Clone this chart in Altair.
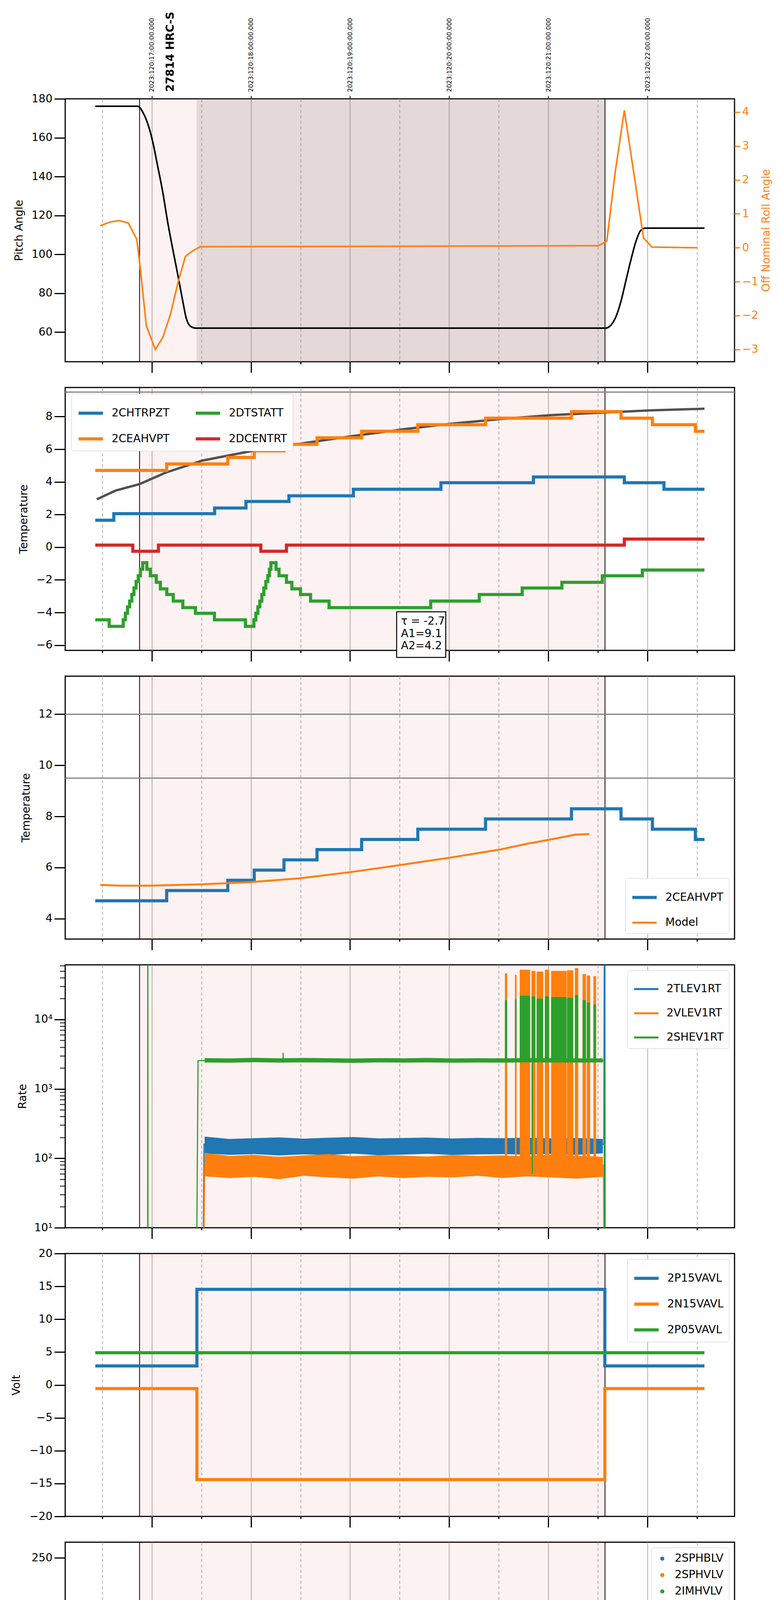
import json

import altair as alt
import pandas as pd

BLUE, ORANGE, GREEN, RED = "#1f77b4", "#ff7f0e", "#2ca02c", "#d62728"
FONT = "DejaVu Sans"
W, H = 1714, 673

# ---- time axis (local clock "HH:MM", minutes may carry decimals) ----
X_RANGE = ["12:07.6", "18:52.7"]
X_TICKS = ["12:30", "13:00", "13:30", "14:00", "14:30", "15:00", "15:30",
           "16:00", "16:30", "17:00", "17:30", "18:00", "18:30"]
X_TITLE = "2023-04-30 (120)"
UTC_TICKS = ["13:00", "14:00", "15:00", "16:00", "17:00", "18:00"]
UTC_LABELS = ["2023:120:17:00:00.000", "2023:120:18:00:00.000",
              "2023:120:19:00:00.000", "2023:120:20:00:00.000",
              "2023:120:21:00:00.000", "2023:120:22:00:00.000"]
OBSID = "27814 HRC-S"
OBSID_T = "13:11.4"
OBS_SPAN = ["12:52.6", "17:34.3"]
SLEW_DONE = "13:27.1"

# ---- panel 1: pitch / roll ----
PITCH_TICKS = [60, 80, 100, 120, 140, 160, 180]
PITCH_DOMAIN = [44.8, 180]
PITCH_T = ["12:25.8", "12:51.5", "12:54.5", "12:58.2", "13:00.6", "13:03.6", "13:06.7",
           "13:09.7", "13:12.7", "13:15.8", "13:18.8", "13:20.9", "13:23.3", "13:26.4",
           "17:34.8", "17:37.9", "17:40.9", "17:43.9", "17:46.9", "17:49.9", "17:53.0",
           "17:56.0", "17:59.0", "18:34.5"]
PITCH_V = [176.2, 176.2, 173.2, 165.5, 157.8, 145.2, 131.7, 116.2, 102.7, 89.2, 75.7,
           67.0, 63.1, 62.1, 62.1, 63.6, 67.9, 75.7, 86.3, 96.9, 106.6, 112.4, 113.5, 113.5]
ROLL_TICKS = [-3, -2, -1, 0, 1, 2, 3, 4]
ROLL_DOMAIN = [-3.36, 4.39]
ROLL_T = ["12:28.8", "12:34.9", "12:40.3", "12:45.8", "12:50.9", "12:53.0", "12:56.7",
          "13:02.1", "13:06.7", "13:11.2", "13:15.8", "13:20.3", "13:24.2", "13:29.4",
          "15:00.3", "17:30.3", "17:35.4", "17:40.3", "17:46.0", "17:51.5", "17:57.6",
          "18:02.7", "18:30.0"]
ROLL_V = [0.65, 0.76, 0.80, 0.73, 0.25, -0.59, -2.3, -3.0, -2.64, -1.98, -1.04, -0.26,
          -0.11, 0.03, 0.04, 0.06, 0.19, 2.17, 4.05, 2.28, 0.29, 0.02, 0.0]

# ---- panel 2: temperatures ----
TEMP_TICKS = [-6, -4, -2, 0, 2, 4, 6, 8]
TEMP_DOMAIN = [-6.32, 9.78]
TEMP_LIMITS = [9.5]
FIT_T = ["12:26.7", "12:37.9", "12:52.7", "13:08.2", "13:30.3", "14:00.0", "14:30.0",
         "15:00.3", "15:30.6", "16:00.9", "16:31.2", "17:01.5", "17:34.5", "18:02.1", "18:34.5"]
FIT_V = [2.93, 3.46, 3.87, 4.56, 5.30, 5.88, 6.34, 6.79, 7.2, 7.56, 7.85, 8.09, 8.25, 8.38, 8.48]
CHTRPZT_T = ["12:25.8", "12:37.0", "13:38.0", "13:57.0", "14:23.0", "15:02.0", "15:55.0",
             "16:51.0", "17:46.0", "18:10.0", "18:34.5"]
CHTRPZT_V = [1.65, 2.05, 2.4, 2.8, 3.15, 3.55, 3.95, 4.3, 3.95, 3.55, 3.55]
CEAHVPT_T = ["12:25.8", "13:09.0", "13:46.0", "14:02.0", "14:20.0", "14:40.0", "15:07.0",
             "15:41.0", "16:22.0", "17:14.0", "17:44.0", "18:03.0", "18:29.0", "18:34.5"]
CEAHVPT_V = [4.7, 5.1, 5.5, 5.9, 6.3, 6.7, 7.1, 7.5, 7.9, 8.3, 7.9, 7.5, 7.1, 7.1]
DCENTRT_T = ["12:25.8", "12:48.5", "13:04.0", "14:06.0", "14:21.5", "17:46.0", "18:34.5"]
DCENTRT_V = [0.13, -0.25, 0.13, -0.25, 0.13, 0.5, 0.5]
DTSTATT_T = ["12:25.8", "12:34.2", "12:42.7", "12:44.0", "12:45.3", "12:46.6", "12:47.9",
             "12:49.2", "12:50.5", "12:51.8", "12:53.1", "12:54.5", "12:57.0", "12:59.1",
             "13:02.7", "13:05.2", "13:09.1", "13:13.0", "13:18.8", "13:26.4", "13:37.9",
             "13:56.7", "14:01.8", "14:03.0", "14:04.2", "14:05.4", "14:06.6", "14:07.8",
             "14:09.0", "14:10.2", "14:11.2", "14:12.1", "14:15.2", "14:17.0", "14:21.5",
             "14:24.8", "14:30.0", "14:36.1", "14:47.3", "15:48.8", "16:18.2", "16:44.2",
             "17:08.2", "17:32.7", "17:56.9", "18:34.5"]
DTSTATT_V = [-4.45, -4.85, -4.45, -4.05, -3.65, -3.3, -2.9, -2.5, -2.1, -1.75, -1.35, -0.95,
             -1.35, -1.75, -2.15, -2.55, -2.9, -3.3, -3.7, -4.05, -4.45, -4.85, -4.45, -4.05,
             -3.65, -3.3, -2.9, -2.5, -2.1, -1.75, -1.35, -0.95, -1.35, -1.75, -2.15, -2.55,
             -2.9, -3.3, -3.7, -3.3, -2.9, -2.5, -2.15, -1.75, -1.4, -1.4]
NOTE_BOX_T = ["15:28.2", "15:57.9"]
NOTE_BOX_V = [-3.96, -6.75]
NOTE_LINES = ["τ = -2.7", "A1=9.1", "A2=4.2"]
NOTE_T = "15:30.8"
NOTE_V = [-4.54, -5.32, -6.06]

# ---- panel 3: model comparison ----
CEA_TICKS = [4, 6, 8, 10, 12]
CEA_DOMAIN = [3.2, 13.49]
CEA_LIMITS = [12, 9.5]
MODEL_T = ["12:28.8", "12:40.9", "12:59.1", "13:29.4", "13:59.7", "14:30.0", "15:00.3",
           "15:30.6", "16:00.9", "16:31.2", "16:46.3", "17:01.5", "17:16.6", "17:24.8"]
MODEL_V = [5.32, 5.29, 5.29, 5.34, 5.43, 5.58, 5.82, 6.10, 6.39, 6.71, 6.92, 7.10, 7.29, 7.31]

# ---- panel 4: rates ----
RATE_DOMAIN = [10, 61200]
RATE_TICKS = [10, 100, 1000, 10000]
RATE_TICK_LABELS = ["10¹", "10²", "10³", "10⁴"]
RATE_MINOR = [20, 30, 40, 50, 60, 70, 80, 90, 200, 300, 400, 500, 600, 700, 800, 900,
              2000, 3000, 4000, 5000, 6000, 7000, 8000, 9000, 20000, 30000, 40000, 50000, 60000]
BAND_T = ["13:32", "13:47", "14:02", "14:17", "14:32", "14:47", "15:02", "15:17", "15:32",
          "15:47", "16:02", "16:17", "16:32", "16:47", "17:02", "17:17", "17:33"]
TLEV_LO = [118, 112, 115, 110, 114, 112, 117, 111, 113, 116, 112, 114, 115, 113, 116, 112, 118]
TLEV_HI = [205, 190, 195, 200, 192, 198, 203, 194, 196, 199, 193, 197, 195, 198, 194, 196, 190]
VLEV_LO = [55, 52, 54, 50, 56, 53, 51, 55, 52, 54, 53, 56, 52, 55, 53, 51, 54]
VLEV_HI = [120, 108, 112, 105, 110, 115, 107, 111, 109, 106, 112, 108, 110, 107, 113, 109, 105]
SHEV_LO = [2400, 2380, 2420, 2390, 2410, 2400, 2370, 2410, 2395, 2405, 2385, 2400, 2390,
           2410, 2400, 2395, 2410]
SHEV_HI = [2780, 2750, 2800, 2760, 2790, 2770, 2740, 2780, 2760, 2790, 2750, 2770, 2760,
           2780, 2770, 2760, 2750]
TLEV_T = ["13:31.0", "13:31.6", "17:33.6", "17:34.0", "17:34.4"]
TLEV_V = [1, 160, 160, 1e6, 1]
VLEV_T = ["13:31.2", "13:32.0", "17:33.4", "17:33.8"]
VLEV_V = [1, 80, 80, 1]
SHEV_T = ["12:57.5", "12:57.6", "12:57.7", "13:27.0", "13:28.0", "14:19.4", "14:19.5",
          "14:19.6", "16:50.2", "16:50.3", "16:50.4", "17:33.8", "17:34.0"]
SHEV_V = [1, 1e6, 1, 1, 2550, 2550, 3300, 2550, 2550, 60, 2550, 2550, 1]
SPIKE_START = ["16:33.7", "16:39.8", "16:42.7", "16:49.8", "16:52.9", "16:57.9", "17:01.7",
               "17:11.3", "17:16.1", "17:20.7", "17:23.3", "17:27.3"]
SPIKE_END = ["16:35.1", "16:40.8", "16:49.0", "16:52.2", "16:56.9", "17:00.5", "17:11.1",
             "17:15.1", "17:18.1", "17:22.8", "17:25.3", "17:28.9"]
VLEV_SPIKE_HI = [46000, 44000, 52000, 50000, 49000, 52000, 50000, 51000, 55000, 45000,
                 43000, 42000]
SHEV_SPIKE_HI = [19000, 19500, 22000, 21500, 20000, 21500, 21000, 20500, 22500, 19000,
                 17500, 16500]

# ---- panel 5: voltages ----
VOLT_TICKS = [-20, -15, -10, -5, 0, 5, 10, 15, 20]
VOLT_DOMAIN = [-20, 20]
P15_T = ["12:25.8", "13:27.3", "17:34.2", "18:34.5"]
P15_V = [2.9, 14.55, 2.9, 2.9]
N15_T = ["12:25.8", "13:27.3", "17:34.2", "18:34.5"]
N15_V = [-0.55, -14.4, -0.55, -0.55]
P05_T = ["12:25.8", "18:34.5"]
P05_V = [4.9, 4.9]

# ---- panel 6: HV monitor ----
HV_TICKS = [0, 50, 100, 150, 200, 250]
HV_DOMAIN = [0, 266]
SPHBLV_T = ["13:29.1", "13:29.4", "13:29.7", "13:30.3", "13:30.6", "13:31.2", "13:31.8"]
SPHBLV_V = [119, 107, 102, 97, 92, 87, 82]
SPHBLV_RUN_T = ["13:31.5", "17:34.5"]
SPHBLV_RUN_V = [77.8, 77.8]
SPHVLV_T = ["13:29.1", "13:29.2", "13:29.4", "13:29.6", "13:30.0", "13:30.3", "13:30.9",
            "13:31.2", "16:34.2", "16:43.3", "16:46.9", "16:49.3", "16:51.5", "16:53.0",
            "16:54.8", "16:58.5", "17:00.6", "17:04.5", "17:07.8"]
SPHVLV_V = [127, 124, 100, 97, 91, 86, 81, 76, 127, 127, 127, 127, 127, 127, 127, 127,
            127, 127, 127]
SPHVLV_RUN_T = ["13:31.8", "17:34.5"]
SPHVLV_RUN_V = [70.9, 70.9]

# ---- panel 7: detector temperatures ----
DET_TICKS = [0, 2.5, 5, 7.5, 10, 12.5, 15, 17.5, 20]
DET_DOMAIN = [-0.73, 20.77]
SPINATM_T = ["13:27.3", "13:43.0", "14:02.7", "14:03.6", "14:04.5", "14:05.4", "14:06.4",
             "14:07.3", "14:08.2", "14:09.1", "14:10.3", "14:11.8", "14:14.8", "14:17.3",
             "14:20.3", "14:23.9", "14:28.5", "14:31.0", "14:33.6", "14:41.2", "14:52.1",
             "15:21.5", "17:22.0", "17:33.3"]
SPINATM_V = [3.29, 2.84, 3.3, 3.75, 4.2, 4.6, 5.05, 5.5, 5.95, 6.45, 7.0, 7.48, 7.0, 6.47,
             5.95, 5.5, 5.05, 4.6, 4.1, 3.69, 3.24, 2.8, 3.29, 3.29]
SPHVATM_T = ["13:27.1", "13:27.3", "13:38.5", "13:42.1", "13:46.7", "13:50.6", "13:55.8",
             "14:00.6", "14:05.8", "14:12.4", "14:20.0", "14:27.6", "14:36.1", "14:46.7",
             "14:58.8", "15:13.9", "15:30.6", "15:52.7", "16:18.2", "17:22.7", "17:33.3"]
SPHVATM_V = [13.6, 14.4, 14.7, 14.96, 15.26, 15.54, 15.81, 16.1, 16.4, 16.67, 16.96, 17.24,
             17.54, 17.81, 18.1, 18.4, 18.7, 18.99, 19.29, 19.55, 19.55]
IMINATM_T = ["13:27.3", "16:35.7", "17:33.3"]
IMINATM_V = [0.67, 1.14, 1.14]
IMHVATM_T = ["13:26.9", "13:27.3", "13:43.0", "14:07.3", "14:26.4", "14:43.6", "15:05.7",
             "15:29.1", "15:57.9", "16:29.7", "17:12.1", "17:34.6", "17:34.8", "17:35.0"]
IMHVATM_V = [-5, 13.6, 13.9, 14.15, 14.4, 14.7, 14.95, 15.25, 15.55, 15.8, 16.1, 16.1, 40, -5]
SPINATM_SPIKE = [-1, 2.8]
SPHVATM_SPIKE = [10.47, 19.55]
IMINATM_SPIKE = [1.14, 2.92]
IMHVATM_SPIKE = [15.8, 19.6]

# ---- panel 8: FEA temperatures ----
FEA_TICKS = [-10, -8, -6, -4, -2, 0]
FEA_DOMAIN = [-10.72, 1.73]
FHTRMZT_T = ["12:25.8", "13:05.2", "13:45.5", "13:55.1", "14:04.8", "14:14.2", "14:23.9",
             "14:33.6", "14:43.6", "14:54.2", "15:05.7", "15:17.6", "15:29.7", "15:41.8",
             "15:51.7", "15:51.9", "15:54.8", "16:07.9", "16:22.1", "16:36.6", "16:45.0",
             "17:10.0", "17:21.2", "18:00.6", "18:14.2", "18:31.8", "18:34.5"]
FHTRMZT_V = [-9.21, -8.81, -8.40, -7.99, -7.58, -7.17, -6.77, -6.36, -5.98, -5.59, -5.20,
             -4.81, -4.42, -4.03, -2.85, -4.03, -3.65, -3.27, -2.89, -2.51, -2.13, -1.76,
             -1.38, -1.74, -2.11, -2.5, -2.5]
FRADPYT_T = ["12:25.8", "13:04.5", "13:16.7", "13:52.1", "14:04.8", "14:16.4", "14:27.9",
             "14:39.1", "14:51.2", "15:03.3", "15:16.0", "15:29.7", "15:44.2", "15:58.8",
             "16:13.0", "16:29.1", "16:44.8", "17:00.9", "17:18.2", "17:36.3", "17:40.3",
             "17:54.5", "18:17.2", "18:34.5"]
FRADPYT_V = [-11.5, -10.47, -11.5, -10.47, -10.05, -9.64, -9.21, -8.81, -8.40, -7.99, -7.58,
             -7.17, -6.79, -6.38, -5.98, -5.59, -5.2, -4.81, -4.42, -4.03, -4.42, -4.81,
             -5.2, -5.2]
FEPRATM_T = ["13:28.5", "13:29.5", "13:30.9", "13:33.3", "13:37.9", "13:41.5", "13:46.7",
             "13:52.7", "13:59.7", "14:07.9", "14:16.4", "14:26.1", "14:36.1", "14:46.7",
             "14:57.3", "15:08.5", "15:21.5", "15:35.1", "15:48.8", "16:03.3", "16:19.1",
             "16:34.2", "17:16.0", "17:29.0"]
FEPRATM_V = [-7.79, -7.4, -6.97, -6.61, -6.2, -5.8, -5.39, -4.98, -4.62, -4.21, -3.81, -3.40,
             -2.99, -2.61, -2.20, -1.82, -1.41, -0.97, -0.56, -0.15, 0.26, 0.7, 1.55, 1.55]
FE00ATM_T = ["13:27.0", "13:27.3", "13:29.4", "13:29.7", "13:40.0", "13:46.1", "13:46.5",
             "13:52.1", "13:59.7", "14:05.8", "14:11.8", "14:20.9", "14:28.5", "14:31.5",
             "14:31.8", "14:36.1", "14:39.7", "14:40.0", "14:44.5", "14:53.0", "15:01.8",
             "15:11.8", "15:20.0", "15:20.9", "15:21.2", "15:30.6", "15:40.3", "15:50.6",
             "15:53.6", "15:53.9", "16:02.4", "16:13.0", "16:14.0", "16:14.3", "16:21.5",
             "16:21.8", "16:23.6", "16:31.7", "16:32.0", "16:32.7", "16:50.8", "16:50.9",
             "16:51.0", "16:51.1", "17:14.0", "17:19.0", "17:25.0", "17:34.6", "17:34.8",
             "17:35.0"]
FE00ATM_V = [-15, -6.68, -7.2, -6.68, -6.31, -7.15, -5.95, -5.59, -5.2, -4.84, -4.5, -4.17,
             -3.8, -4.3, -3.8, -3.45, -3.9, -3.45, -3.1, -2.8, -2.45, -2.13, -1.78, -2.1,
             -1.78, -1.43, -1.12, -0.82, -1.2, -0.82, -0.47, -0.18, -1.2, -0.18, -1.2, -0.18,
             0.2, -0.85, 0.2, 0.5, 0.5, -15, 5, 0.5, 1.1, 1.45, 1.7, 1.7, -15, -15]
FEPRATM_SPIKE_LO = -4.69
FEPRATM_SPIKE_HI = [0.7, 0.7, 0.7, 0.7, 0.7, 0.7, 0.7, 0.7, 1.55, 1.55, 1.55, 1.55]
FE00ATM_SPIKE = [0.5, 2.5]
FE00ATM_SPIKE_N = 7


def hrs(s):
    hh, mm = s.split(":")
    return int(hh) + float(mm) / 60.0


def T(times):
    return [hrs(t) for t in times]


XS = alt.Scale(domain=T(X_RANGE), nice=False, zero=False)
HOUR = "datum.value % 1 == 0"


def cond(test, yes, no):
    return {"condition": {"test": test, "value": yes}, "value": no}


def x_axis(labels=False):
    kw = dict(values=T(X_TICKS), grid=True, gridColor="#b0b0b0", gridWidth=2,
              gridDash=cond(HOUR, [1, 0], [8, 6]), domain=False,
              tickColor="black", tickWidth=3, tickSize=cond(HOUR, 28, 6))
    if labels:
        kw.update(labels=True, labelExpr="datum.value % 1 == 0 ? format(datum.value, 'd') + 'h' : '30'",
                  labelFontSize=cond(HOUR, 28, 17), labelPadding=cond(HOUR, 10, 2),
                  title=X_TITLE, titleFontSize=32, titlePadding=8)
    else:
        kw.update(labels=False, title=None)
    return alt.Axis(**kw)


def y_axis(title, values, title_x, **extra):
    kw = dict(title=title, values=values, grid=False, domain=False, tickColor="black",
              tickWidth=3, tickSize=28, labelFontSize=28, labelPadding=5, titleFontSize=28,
              titleAngle=270, titleX=title_x, titleY=H / 2, titleBaseline="middle",
              titleAlign="center")
    kw.update(extra)
    return alt.Axis(**kw)


def makers(xax, ys, yax):
    def X(f="t"):
        return alt.X(f"{f}:Q", scale=xax[0], axis=xax[1])

    def Y(f="v"):
        return alt.Y(f"{f}:Q", scale=ys, axis=yax)
    return X, Y


def shade(X, dark=False):
    span = pd.DataFrame({"t": [hrs(OBS_SPAN[0])], "t2": [hrs(OBS_SPAN[1])]})
    out = [alt.Chart(span).mark_rect(color="#e04040", opacity=0.07).encode(x=X(), x2="t2")]
    if dark:
        slew = pd.DataFrame({"t": [hrs(SLEW_DONE)], "t2": [hrs(OBS_SPAN[1])]})
        out.append(alt.Chart(slew).mark_rect(color="#857575", opacity=0.2).encode(x=X(), x2="t2"))
    edges = pd.DataFrame({"t": T(OBS_SPAN)})
    out.append(alt.Chart(edges).mark_rule(color="black", strokeWidth=2).encode(x=X()))
    return out


def hlines(Y, vals):
    return alt.Chart(pd.DataFrame({"v": vals})).mark_rule(color="#808080", strokeWidth=3).encode(y=Y())


def line(X, Y, col, name, times, vals, width=8, interp="step-after", **mk):
    d = pd.DataFrame({"t": T(times), "v": vals, "s": name})
    enc = dict(x=X(), y=Y())
    if col is not None:
        enc["color"] = col
    return alt.Chart(d).mark_line(interpolate=interp, strokeWidth=width, clip=True, **mk).encode(**enc)


def blocks(X, Y, color, starts, ends, lo, hi):
    d = pd.DataFrame({"t": T(starts), "t2": T(ends), "v": lo, "v2": hi})
    return alt.Chart(d).mark_rect(color=color, clip=True).encode(x=X(), x2="t2", y=Y(), y2="v2")


def band(X, Y, color, times, lo, hi):
    d = pd.DataFrame({"t": T(times), "v": lo, "v2": hi})
    return alt.Chart(d).mark_area(color=color, clip=True).encode(x=X(), y=Y(), y2="v2")


def colour(names, colors, leg):
    return alt.Color("s:N", scale=alt.Scale(domain=names, range=colors), legend=leg)


def legend(orient, **kw):
    return alt.Legend(title=None, orient=orient, **kw)


def yscale(dom, **kw):
    return alt.Scale(domain=dom, nice=False, zero=False, **kw)


XB = (XS, x_axis(False))

# panel 1
X1, Y1 = makers(XB, yscale(PITCH_DOMAIN), y_axis("Pitch Angle", PITCH_TICKS, -118))
obsid = alt.Chart(pd.DataFrame({"t": [hrs(OBSID_T)], "label": [OBSID]})).mark_text(
    angle=270, align="left", baseline="middle", font=FONT, fontSize=28, fontWeight="bold",
    clip=False).encode(x=X1(), y=alt.value(-18), text="label:N")
base1 = alt.layer(*shade(X1, dark=True),
                  line(X1, Y1, None, "pitch", PITCH_T, PITCH_V, width=4, interp="monotone", color="black"),
                  obsid)
top_axis = alt.Axis(orient="top", values=T(UTC_TICKS),
                    labelExpr=f"{json.dumps(UTC_LABELS)}[round(datum.value) - 13]",
                    labelAngle=270, labelAlign="left", labelBaseline="middle", labelFontSize=16,
                    labelPadding=10, labelLimit=400, tickSize=8, tickWidth=2, tickColor="black",
                    grid=False, domain=False, title=None)
Xr, Yr = makers((XS, top_axis), yscale(ROLL_DOMAIN),
                y_axis("Off Nominal Roll Angle", ROLL_TICKS, 81, orient="right", tickSize=14,
                       labelColor=ORANGE, tickColor=ORANGE, titleColor=ORANGE))
roll = line(Xr, Yr, None, "roll", ROLL_T, ROLL_V, width=4, interp="linear", color=ORANGE)
p1 = alt.layer(base1, roll).resolve_scale(y="independent").resolve_axis(
    x="independent", y="independent").properties(width=W, height=H)

# panel 2
X2, Y2 = makers(XB, yscale(TEMP_DOMAIN), y_axis("Temperature", TEMP_TICKS, -106))
c2 = colour(["2CHTRPZT", "2CEAHVPT", "2DTSTATT", "2DCENTRT"], [BLUE, ORANGE, GREEN, RED],
            legend("top-left", columns=2, columnPadding=50, offset=16))
box = alt.Chart(pd.DataFrame({"t": [hrs(NOTE_BOX_T[0])], "t2": [hrs(NOTE_BOX_T[1])],
                              "v": [NOTE_BOX_V[0]], "v2": [NOTE_BOX_V[1]]})).mark_rect(
    fill="white", stroke="black", strokeWidth=2.5, clip=False).encode(x=X2(), x2="t2", y=Y2(), y2="v2")
note = alt.Chart(pd.DataFrame({"t": hrs(NOTE_T), "v": NOTE_V, "label": NOTE_LINES})).mark_text(
    align="left", baseline="middle", font=FONT, fontSize=28, clip=False).encode(
    x=X2(), y=Y2(), text="label:N")
p2 = alt.layer(*shade(X2), hlines(Y2, TEMP_LIMITS),
               line(X2, Y2, None, "fit", FIT_T, FIT_V, width=6, interp="linear", color="#505050"),
               line(X2, Y2, c2, "2CHTRPZT", CHTRPZT_T, CHTRPZT_V),
               line(X2, Y2, c2, "2CEAHVPT", CEAHVPT_T, CEAHVPT_V),
               line(X2, Y2, c2, "2DTSTATT", DTSTATT_T, DTSTATT_V),
               line(X2, Y2, c2, "2DCENTRT", DCENTRT_T, DCENTRT_V),
               box, note).properties(width=W, height=H)

# panel 3
X3, Y3 = makers(XB, yscale(CEA_DOMAIN), y_axis("Temperature", CEA_TICKS, -100))
names3 = ["2CEAHVPT", "Model"]
leg3 = legend("bottom-right")
c3 = colour(names3, [BLUE, ORANGE], leg3)
w3 = alt.StrokeWidth("s:N", scale=alt.Scale(domain=names3, range=[8, 5]), legend=leg3)
cea = pd.DataFrame({"t": T(CEAHVPT_T), "v": CEAHVPT_V, "s": "2CEAHVPT"})
mod = pd.DataFrame({"t": T(MODEL_T), "v": MODEL_V, "s": "Model"})
p3 = alt.layer(*shade(X3), hlines(Y3, CEA_LIMITS),
               alt.Chart(cea).mark_line(interpolate="step-after", clip=True).encode(
                   x=X3(), y=Y3(), color=c3, strokeWidth=w3),
               alt.Chart(mod).mark_line(clip=True).encode(
                   x=X3(), y=Y3(), color=c3, strokeWidth=w3)).properties(width=W, height=H)

# panel 4
rate_ticks = RATE_TICKS + RATE_MINOR
is_major = f"indexof({json.dumps(RATE_TICKS)}, datum.value) >= 0"
rate_axis = y_axis("Rate", rate_ticks, -109,
                   labelExpr=f"{is_major} ? {json.dumps(RATE_TICK_LABELS)}[indexof({json.dumps(RATE_TICKS)}, datum.value)] : ''",
                   tickSize=cond(is_major, 28, 14), tickWidth=cond(is_major, 3, 2))
X4, Y4 = makers(XB, yscale(RATE_DOMAIN, type="log"), rate_axis)
c4 = colour(["2TLEV1RT", "2VLEV1RT", "2SHEV1RT"], [BLUE, ORANGE, GREEN],
            legend("top-right", symbolStrokeWidth=5))
p4 = alt.layer(*shade(X4),
               band(X4, Y4, BLUE, BAND_T, TLEV_LO, TLEV_HI),
               line(X4, Y4, c4, "2TLEV1RT", TLEV_T, TLEV_V, width=3, interp="linear"),
               band(X4, Y4, ORANGE, BAND_T, VLEV_LO, VLEV_HI),
               line(X4, Y4, c4, "2VLEV1RT", VLEV_T, VLEV_V, width=3, interp="linear"),
               blocks(X4, Y4, ORANGE, SPIKE_START, SPIKE_END, 90, VLEV_SPIKE_HI),
               band(X4, Y4, GREEN, BAND_T, SHEV_LO, SHEV_HI),
               line(X4, Y4, c4, "2SHEV1RT", SHEV_T, SHEV_V, width=3, interp="linear"),
               blocks(X4, Y4, GREEN, SPIKE_START, SPIKE_END, 2500, SHEV_SPIKE_HI)
               ).properties(width=W, height=H)

# panel 5
X5, Y5 = makers(XB, yscale(VOLT_DOMAIN), y_axis("Volt", VOLT_TICKS, -125))
c5 = colour(["2P15VAVL", "2N15VAVL", "2P05VAVL"], [BLUE, ORANGE, GREEN], legend("top-right"))
p5 = alt.layer(*shade(X5),
               line(X5, Y5, c5, "2P15VAVL", P15_T, P15_V),
               line(X5, Y5, c5, "2N15VAVL", N15_T, N15_V),
               line(X5, Y5, c5, "2P05VAVL", P05_T, P05_V)).properties(width=W, height=H)

# panel 6
X6, Y6 = makers(XB, yscale(HV_DOMAIN), y_axis("HV Monitor", HV_TICKS, -118))
c6 = colour(["2SPHBLV", "2SPHVLV", "2IMHVLV", "2IMHBLV"], [BLUE, ORANGE, GREEN, RED],
            legend("top-right", symbolType="circle", symbolSize=110))


def dots(name, times, vals):
    d = pd.DataFrame({"t": T(times), "v": vals, "s": name})
    return alt.Chart(d).mark_circle(size=100, opacity=1, clip=True).encode(x=X6(), y=Y6(), color=c6)


p6 = alt.layer(*shade(X6),
               line(X6, Y6, None, "2SPHBLV", SPHBLV_RUN_T, SPHBLV_RUN_V, width=15,
                    interp="linear", color=BLUE, strokeCap="round"),
               dots("2SPHBLV", SPHBLV_T, SPHBLV_V),
               line(X6, Y6, None, "2SPHVLV", SPHVLV_RUN_T, SPHVLV_RUN_V, width=12,
                    interp="linear", color=ORANGE, strokeCap="round"),
               dots("2SPHVLV", SPHVLV_T, SPHVLV_V)).properties(width=W, height=H)

# panel 7
X7, Y7 = makers(XB, yscale(DET_DOMAIN), y_axis("Detector Temp", DET_TICKS, -126, format=".1f"))
c7 = colour(["2SPINATM", "2SPHVATM", "2IMINATM", "2IMHVATM"], [BLUE, ORANGE, GREEN, RED],
            legend("top-right"))
p7 = alt.layer(*shade(X7),
               line(X7, Y7, c7, "2SPINATM", SPINATM_T, SPINATM_V),
               blocks(X7, Y7, BLUE, SPIKE_START, SPIKE_END, *SPINATM_SPIKE),
               line(X7, Y7, c7, "2SPHVATM", SPHVATM_T, SPHVATM_V),
               blocks(X7, Y7, ORANGE, SPIKE_START, SPIKE_END, *SPHVATM_SPIKE),
               line(X7, Y7, c7, "2IMINATM", IMINATM_T, IMINATM_V),
               blocks(X7, Y7, GREEN, SPIKE_START, SPIKE_END, *IMINATM_SPIKE),
               line(X7, Y7, c7, "2IMHVATM", IMHVATM_T, IMHVATM_V),
               blocks(X7, Y7, RED, SPIKE_START, SPIKE_END, *IMHVATM_SPIKE)
               ).properties(width=W, height=H)

# panel 8 (carries the labelled time axis)
X8, Y8 = makers((XS, x_axis(True)), yscale(FEA_DOMAIN), y_axis("FEA Temp", FEA_TICKS, -122))
c8 = colour(["2FHTRMZT", "2FRADPYT", "2FEPRATM", "2FE00ATM"], [BLUE, ORANGE, GREEN, RED],
            legend("bottom-right"))
p8 = alt.layer(*shade(X8),
               line(X8, Y8, c8, "2FHTRMZT", FHTRMZT_T, FHTRMZT_V),
               line(X8, Y8, c8, "2FRADPYT", FRADPYT_T, FRADPYT_V),
               line(X8, Y8, c8, "2FEPRATM", FEPRATM_T, FEPRATM_V),
               blocks(X8, Y8, GREEN, SPIKE_START, SPIKE_END, FEPRATM_SPIKE_LO, FEPRATM_SPIKE_HI),
               line(X8, Y8, c8, "2FE00ATM", FE00ATM_T, FE00ATM_V),
               blocks(X8, Y8, RED, SPIKE_START[:FE00ATM_SPIKE_N], SPIKE_END[:FE00ATM_SPIKE_N],
                      *FE00ATM_SPIKE)
               ).properties(width=W, height=H)

chart = alt.vconcat(p1, p2, p3, p4, p5, p6, p7, p8, spacing=66, bounds="flush").resolve_scale(
    color="independent", strokeWidth="independent"
).resolve_legend(
    color="independent", strokeWidth="independent"
).properties(
    padding={"left": 17, "top": 20, "right": 5, "bottom": 5}
).configure(font=FONT).configure_view(
    stroke="black", strokeWidth=3
).configure_axis(
    labelFont=FONT, titleFont=FONT, labelColor="black", titleColor="black", titleFontWeight="normal"
).configure_legend(
    labelFont=FONT, labelFontSize=28, labelColor="black", symbolType="stroke", symbolStrokeWidth=8,
    symbolSize=3900, strokeColor="#cccccc", fillColor="white", cornerRadius=6, padding=14,
    rowPadding=14, labelOffset=18, offset=14, labelLimit=400
)

chart.save("out.html", embed_options={"renderer": "svg", "actions": False})
